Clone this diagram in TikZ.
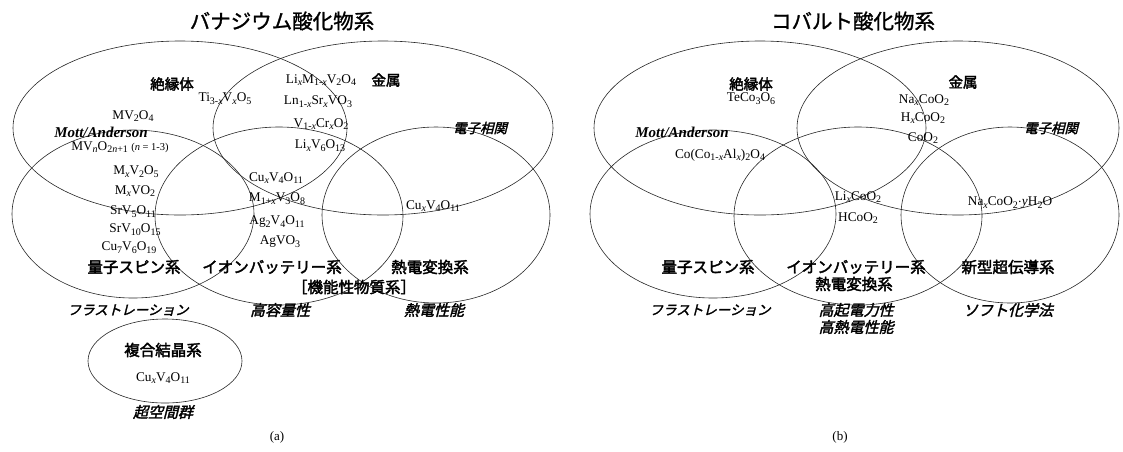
\documentclass[tikz,border=0pt]{standalone}
\usepackage{fontspec}
\setmainfont{Liberation Serif}
\newfontfamily\jp{Noto Sans CJK JP}[FakeBold=1.2]
\newfontfamily\jpb{Noto Sans CJK JP}[FakeBold=2.4]
\newfontfamily\jpi{Noto Sans CJK JP}[FakeBold=2.0,FakeSlant=0.25]
\usetikzlibrary{shapes.geometric}
\newcommand{\sbs}[1]{\raisebox{-0.45ex}{\fontsize{10}{11}\selectfont #1}}
\newcommand{\vx}{\textit{x}}
\tikzset{
  ring/.style={draw=black!85, line width=0.6pt, ellipse, inner sep=0pt},
  chem/.style={font=\fontsize{13.3}{14}\selectfont, inner sep=0pt},
  lab/.style={font=\jpb\fontsize{15.5}{16}\selectfont, inner sep=0pt},
  labs/.style={font=\jpb\fontsize{14.5}{15}\selectfont, inner sep=0pt},
  ital/.style={font=\jpi\fontsize{15}{16}\selectfont, inner sep=0pt},
  itals/.style={font=\jpi\fontsize{13.5}{15}\selectfont, inner sep=0pt},
  ttl/.style={font=\jp\fontsize{20.5}{22}\selectfont, inner sep=0pt},
  mott/.style={font=\bfseries\itshape\fontsize{15}{16}\selectfont, inner sep=0pt},
  pcap/.style={font=\fontsize{13}{14}\selectfont, inner sep=0pt},
}
\begin{document}
\begin{tikzpicture}[x=1pt,y=-1pt]
\useasboundingbox (0,0) rectangle (1123,451);
% ---------------- panel (a) ----------------
\node[ttl] (aT) at (282,21) {バナジウム酸化物系};
\node[ring, minimum width=334pt, minimum height=174pt] (aTL) at (180,128) {};
\node[ring, minimum width=340pt, minimum height=174pt] (aTR) at (383,128) {};
\node[ring, minimum width=242pt, minimum height=168pt] (aL) at (133,214) {};
\node[ring, minimum width=248pt, minimum height=178pt] (aM) at (279,216) {};
\node[ring, minimum width=228pt, minimum height=176pt] (aR) at (436,215) {};
\node[ring, minimum width=154pt, minimum height=84pt] (aC) at (165,361) {};

\node[labs] (a1) at (172,84) {絶縁体};
\node[labs] (a2) at (386,80) {金属};
\node[chem] (a3) at (225,99) {Ti\sbs{3-\vx}V\sbs{\vx}O\sbs{5}};
\node[chem] (a4) at (133,116) {MV\sbs{2}O\sbs{4}};
\node[mott] (a5) at (101,132) {Mott/Anderson};
\node[chem] (a6) at (120,147) {MV\sbs{\textit{n}}O\sbs{2\textit{n}+1} {\fontsize{10.5}{11}\selectfont(\textit{n} = 1-3)}};
\node[chem] (a7) at (136,172) {M\sbs{\vx}V\sbs{2}O\sbs{5}};
\node[chem] (a8) at (135,191) {M\sbs{\vx}VO\sbs{2}};
\node[chem] (a9) at (133,212) {SrV\sbs{5}O\sbs{11}};
\node[chem] (a10) at (135,230) {SrV\sbs{10}O\sbs{15}};
\node[chem] (a11) at (129,248) {Cu\sbs{7}V\sbs{6}O\sbs{19}};
\node[chem] (a12) at (321,80) {Li\sbs{\vx}M\sbs{1-\vx}V\sbs{2}O\sbs{4}};
\node[chem] (a13) at (318,102) {Ln\sbs{1-\vx}Sr\sbs{\vx}VO\sbs{3}};
\node[chem] (a14) at (321,124) {V\sbs{1-\vx}Cr\sbs{\vx}O\sbs{2}};
\node[chem] (a15) at (320,146) {Li\sbs{\vx}V\sbs{6}O\sbs{13}};
\node[itals] (a16) at (480,128) {電子相関};
\node[chem] (a17) at (276,178) {Cu\sbs{\vx}V\sbs{4}O\sbs{11}};
\node[chem] (a18) at (277,199) {M\sbs{1+\vx}V\sbs{3}O\sbs{8}};
\node[chem] (a19) at (277,222) {Ag\sbs{2}V\sbs{4}O\sbs{11}};
\node[chem] (a20) at (280,242) {AgVO\sbs{3}};
\node[chem] (a21) at (433,206) {Cu\sbs{\vx}V\sbs{4}O\sbs{11}};
\node[lab] (a22) at (134,267) {量子スピン系};
\node[lab] (a23) at (272,267) {イオンバッテリー系};
\node[lab] (a24) at (430,267) {熱電変換系};
\node[lab] (a25) at (354,287) {［機能性物質系］};
\node[itals] (a26) at (128,310) {フラストレーション};
\node[ital] (a27) at (280,310) {高容量性};
\node[ital] (a28) at (434,310) {熱電性能};
\node[lab] (a29) at (163,350) {複合結晶系};
\node[chem] (a30) at (163,378) {Cu\sbs{\vx}V\sbs{4}O\sbs{11}};
\node[ital] (a31) at (163,412) {超空間群};
\node[pcap] (a32) at (277,437) {(a)};
% ---------------- panel (b) ----------------
\node[ttl] (bT) at (853,21) {コバルト酸化物系};
\node[ring, minimum width=332pt, minimum height=174pt] (bTL) at (760,128) {};
\node[ring, minimum width=322pt, minimum height=174pt] (bTR) at (958,128) {};
\node[ring, minimum width=246pt, minimum height=168pt] (bL) at (713,214) {};
\node[ring, minimum width=248pt, minimum height=178pt] (bM) at (858,216) {};
\node[ring, minimum width=218pt, minimum height=176pt] (bR) at (1010,215) {};

\node[labs] (b1) at (751,84) {絶縁体};
\node[chem] (b2) at (751,99) {TeCo\sbs{3}O\sbs{6}};
\node[mott] (b3) at (682,132) {Mott/Anderson};
\node[chem] (b4) at (720,155) {Co(Co\sbs{1-\vx}Al\sbs{\vx})\sbs{2}O\sbs{4}};
\node[labs] (b5) at (963,82) {金属};
\node[chem] (b6) at (924,100) {Na\sbs{\vx}CoO\sbs{2}};
\node[chem] (b7) at (923,118) {H\sbs{\vx}CoO\sbs{2}};
\node[chem] (b8) at (923,138) {CoO\sbs{2}};
\node[itals] (b9) at (1051,128) {電子相関};
\node[chem] (b10) at (858,197) {Li\sbs{\vx}CoO\sbs{2}};
\node[chem] (b11) at (858,218) {HCoO\sbs{2}};
\node[chem] (b12) at (1010,203) {Na\sbs{\vx}CoO\sbs{2}$\cdot$\textit{y}H\sbs{2}O};
\node[lab] (b13) at (708,267) {量子スピン系};
\node[lab] (b14) at (856,267) {イオンバッテリー系};
\node[lab] (b15) at (854,284) {熱電変換系};
\node[lab] (b16) at (1008,267) {新型超伝導系};
\node[itals] (b17) at (710,310) {フラストレーション};
\node[ital] (b18) at (856,310) {高起電力性};
\node[ital] (b19) at (856,327) {高熱電性能};
\node[ital] (b20) at (1008,310) {ソフト化学法};
\node[pcap] (b21) at (840,437) {(b)};
\end{tikzpicture}
\end{document}
